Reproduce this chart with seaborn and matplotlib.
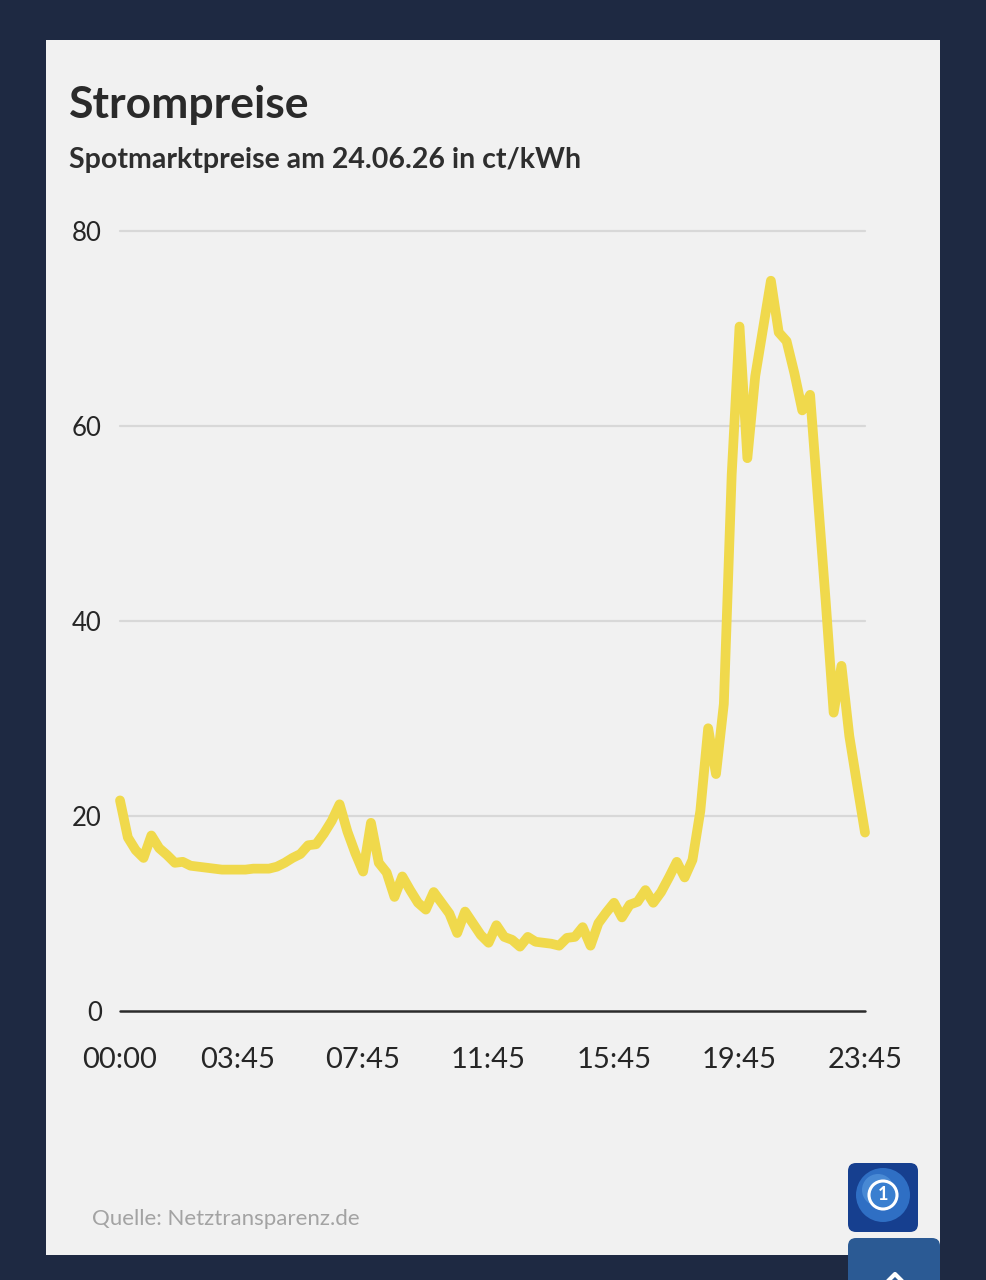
import numpy as np
import pandas as pd
import matplotlib
matplotlib.use("Agg")
import matplotlib.pyplot as plt
import matplotlib.transforms as mtrans
import seaborn as sns
from matplotlib.patches import Rectangle, FancyBboxPatch, Circle

# ---------------- data ----------------
title = "Strompreise"
subtitle = "Spotmarktpreise am 24.06.26 in ct/kWh"
source = "Quelle: Netztransparenz.de"

prices = [
    21.6, 17.8, 16.5, 15.7, 18.0, 16.7, 16.0, 15.2, 15.3, 14.9, 14.8,
    14.7, 14.6, 14.5, 14.5, 14.5, 14.5, 14.6, 14.6, 14.6, 14.8,
    15.2, 15.7, 16.1, 17.0, 17.1, 18.2, 19.5, 21.2,
    18.4, 16.2, 14.3, 19.3, 15.2, 14.2, 11.7, 13.8, 12.4, 11.1, 10.4, 12.2,
    11.1, 10.0, 8.0, 10.2, 9.0, 7.8, 7.0, 8.8, 7.6, 7.3,
    6.6, 7.6, 7.1, 7.0, 6.9, 6.7, 7.5, 7.6, 8.6, 6.7,
    9.0, 10.1, 11.1, 9.6, 10.9, 11.2, 12.4, 11.1, 12.2, 13.7,
    15.3, 13.7, 15.5, 20.5, 29.0, 24.3, 31.5, 55.0, 70.2, 56.7,
    65.1, 70.0, 74.9, 69.6, 68.7, 65.4, 61.6, 63.2, 52.5, 41.9,
    30.6, 35.4, 28.2, 23.2, 18.3,
]
slot = list(range(len(prices)))  # quarter-hour slots 00:00 .. 23:45
x_tick_slots = [0, 15, 31, 47, 63, 79, 95]
x_tick_labels = ["00:00", "03:45", "07:45", "11:45", "15:45", "19:45", "23:45"]
y_ticks = [0, 20, 40, 60, 80]

df = pd.DataFrame({"slot": slot, "price": prices})

# ---------------- figure ----------------
W, H = 987, 1280
navy = "#1e2942"
card = "#f1f1f1"
yellow = "#f0d94c"

sns.set_theme(style="white")
plt.rcParams["font.family"] = ["Lato", "DejaVu Sans"]

fig = plt.figure(figsize=(W / 100, H / 100), dpi=100)
fig.patch.set_facecolor(navy)
pix = mtrans.IdentityTransform()


def fx(x):
    return x / W


def fy(y):
    return 1 - y / H


# card background
fig.add_artist(Rectangle((fx(46), fy(1255)), fx(940) - fx(46), fy(40) - fy(1255),
                         transform=fig.transFigure, facecolor=card, edgecolor="none", zorder=0))

ax = fig.add_axes([fx(120), fy(1011), fx(865) - fx(120), fy(231) - fy(1011)])
ax.set_facecolor("none")

for yt in y_ticks[1:]:
    ax.axhline(yt, color="#d8d8d8", lw=1.6, zorder=1, clip_on=False)
ax.axhline(0, color="#2b2b2b", lw=1.8, zorder=2, clip_on=False)

sns.lineplot(data=df, x="slot", y="price", ax=ax, color=yellow, lw=7.0,
             zorder=3, clip_on=False, solid_joinstyle="round", solid_capstyle="round")

ax.set_xlim(0, 95)
ax.set_ylim(0, 80)
ax.set_xticks(x_tick_slots)
ax.set_xticklabels(x_tick_labels, fontsize=21, color="#262626")
ax.set_yticks(y_ticks)
ax.set_yticklabels([str(v) for v in y_ticks], fontsize=18.5, color="#262626")
ax.tick_params(axis="x", length=0, pad=26)
ax.tick_params(axis="y", length=0, pad=13)
ax.set_xlabel("")
ax.set_ylabel("")
for s in ax.spines.values():
    s.set_visible(False)

# texts
fig.text(fx(69), fy(118), title, fontsize=32, fontweight="bold", color="#2a2a2a",
         ha="left", va="baseline")
fig.text(fx(69), fy(168), subtitle, fontsize=20.5, fontweight="bold", color="#2e2e2e",
         ha="left", va="baseline")
fig.text(fx(92), fy(1225), source, fontsize=16, fontweight="normal", color="#a3a3a3",
         ha="left", va="baseline")

# logo icon
fig.add_artist(FancyBboxPatch((848, H - 1232), 70, 69,
                              boxstyle="round,pad=0,rounding_size=8",
                              transform=pix, facecolor="#163f8f", edgecolor="none", zorder=5))
fig.add_artist(Circle((883, H - 1195), 27, transform=pix,
                      facecolor="#2f6fc4", edgecolor="none", zorder=6))
fig.add_artist(Circle((878, H - 1190), 16, transform=pix,
                      facecolor="#5a9be0", edgecolor="none", alpha=0.6, zorder=6))
fig.add_artist(Circle((883, H - 1195), 14, transform=pix,
                      facecolor="#3a7fd0", edgecolor="white", lw=2.2, zorder=7))
fig.text(883 / W, 1 - 1195 / H, "1", fontsize=13, fontweight="bold", color="white",
         ha="center", va="center", zorder=8)

# scroll-to-top button
fig.add_artist(FancyBboxPatch((848, H - 1300), 92, 62,
                              boxstyle="round,pad=0,rounding_size=8",
                              transform=pix, facecolor="#2b5a94", edgecolor="none", zorder=5))
fig.add_artist(plt.Line2D([886, 895, 904], [H - 1283, H - 1274, H - 1283],
                          transform=pix, color="white", lw=3, zorder=6))

fig.savefig("out.png", dpi=100, facecolor=fig.get_facecolor())
